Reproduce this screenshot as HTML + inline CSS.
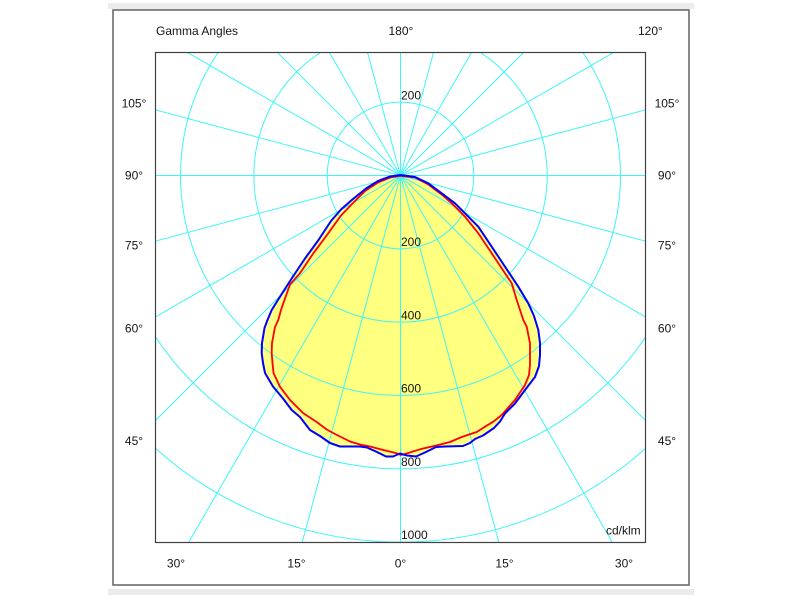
<!DOCTYPE html>
<html>
<head>
<meta charset="utf-8">
<style>
  html,body{margin:0;padding:0;background:#fff;width:800px;height:600px;overflow:hidden;}
  svg{display:block;overflow:hidden;}
  text{font-family:"Liberation Sans", Arial, sans-serif;font-size:12px;fill:#151515;}
</style>
</head>
<body>
<svg width="800" height="600" viewBox="0 0 800 600" xmlns="http://www.w3.org/2000/svg">
  <defs>
    <clipPath id="plot">
      <rect x="155.5" y="52.5" width="490" height="490"/>
    </clipPath>
  </defs>

  <!-- gray strips -->
  <rect x="108" y="3" width="586" height="6" fill="#ececec"/>
  <rect x="108" y="589" width="586" height="6" fill="#ececec"/>

  <!-- outer frame -->
  <rect x="113" y="10" width="576" height="575" fill="#fff" stroke="#6a6a6a" stroke-width="1.6"/>

  <g clip-path="url(#plot)">
    <!-- yellow fill (blue outline polygon) -->
    <polygon fill="#ffff80" stroke="none" points="
400.5,175 390,176.5 378,181 366,188.5 353,199 341,209.5 331,221 318.5,240 305,258.5 292,278 280,296.7 271.7,310 267.5,320 264.5,328 262,343 261.7,353 263,363 265,373 273,386.5 283,398.5 291.7,410 300,417 310,430 320,436 330,443 340,446.5 360,446.5 367,447.5 377,452 386,456.5 393,456.5 400,453.5 407,455.5 416,456.5 426,452 436,447 445,446.5 463,446 470,443 475,439 483,435.5 494,428 500,421.5 505,413.5 515,403.5 525,390 535,377 539,366 540,355 540,343 538.3,330 534,316 528.3,303.3 518.3,286.7 505,266.7 491.7,246.7 478.3,226.7 465,213.3 455,203.3 441.7,193.3 428.3,183.3 415,177"/>

    <!-- grid -->
    <g stroke="#3ff6f6" stroke-width="1" fill="none">
      <circle cx="400.5" cy="175.5" r="73.33"/>
      <circle cx="400.5" cy="175.5" r="146.67"/>
      <circle cx="400.5" cy="175.5" r="220"/>
      <circle cx="400.5" cy="175.5" r="293.33"/>
      <circle cx="400.5" cy="175.5" r="366.67"/>
      <line x1="400.5" y1="50" x2="400.5" y2="545"/>
      <line x1="153" y1="175.5" x2="648" y2="175.5"/>
      <g transform="translate(400.5 175.5)">
        <line x1="0" y1="-460" x2="0" y2="460" transform="rotate(15)"/>
        <line x1="0" y1="-460" x2="0" y2="460" transform="rotate(30)"/>
        <line x1="0" y1="-460" x2="0" y2="460" transform="rotate(45)"/>
        <line x1="0" y1="-460" x2="0" y2="460" transform="rotate(60)"/>
        <line x1="0" y1="-460" x2="0" y2="460" transform="rotate(75)"/>
        <line x1="0" y1="-460" x2="0" y2="460" transform="rotate(105)"/>
        <line x1="0" y1="-460" x2="0" y2="460" transform="rotate(120)"/>
        <line x1="0" y1="-460" x2="0" y2="460" transform="rotate(135)"/>
        <line x1="0" y1="-460" x2="0" y2="460" transform="rotate(150)"/>
        <line x1="0" y1="-460" x2="0" y2="460" transform="rotate(165)"/>
      </g>
    </g>

    <!-- red curve -->
    <polygon fill="none" stroke="#ff0000" stroke-width="1.8" stroke-linejoin="round" points="
400.5,175.8 390,177.5 378,182.5 365,191 352,204 341,215.5 327,235 313.3,253.3 300,273.3 290,284.5 283.3,303.3 281,310 278.3,320 275,327 272,343 271.7,353 272.5,363 273.5,373 280,386.7 290,400 303.3,413.3 316.7,422 326.7,429.5 335,434 350,441.5 360,444.5 370,446.5 383.3,450 396.7,453.3 401,455 405,454 420,449.3 438.3,445 450,442 461.7,437 476.7,432 485,426.7 493.3,421.7 501.7,415 515,400 525,385 529,375 530,365 530,343.3 526.7,326.7 523.3,320 520,310 516.7,300 511.7,283.3 505,273.3 491.7,253.3 478.3,233.3 465,216.7 451.7,203.3 441.7,194.5 428.3,184.5 415,177.5"/>

    <!-- blue curve -->
    <polygon fill="none" stroke="#0000ff" stroke-width="2" stroke-linejoin="round" points="
400.5,175 390,176.5 378,181 366,188.5 353,199 341,209.5 331,221 318.5,240 305,258.5 292,278 280,296.7 271.7,310 267.5,320 264.5,328 262,343 261.7,353 263,363 265,373 273,386.5 283,398.5 291.7,410 300,417 310,430 320,436 330,443 340,446.5 360,446.5 367,447.5 377,452 386,456.5 393,456.5 400,453.5 407,455.5 416,456.5 426,452 436,447 445,446.5 463,446 470,443 475,439 483,435.5 494,428 500,421.5 505,413.5 515,403.5 525,390 535,377 539,366 540,355 540,343 538.3,330 534,316 528.3,303.3 518.3,286.7 505,266.7 491.7,246.7 478.3,226.7 465,213.3 455,203.3 441.7,193.3 428.3,183.3 415,177"/>
  </g>

  <!-- inner plot border -->
  <rect x="155.5" y="52.5" width="490" height="490" fill="none" stroke="#404040" stroke-width="1.2"/>

  <!-- in-plot value labels -->
  <text x="401" y="99.5">200</text>
  <text x="401" y="246">200</text>
  <text x="401" y="319.5">400</text>
  <text x="401" y="392.5">600</text>
  <text x="401" y="466">800</text>
  <text x="401" y="539">1000</text>
  <text x="606" y="534.5">cd/klm</text>

  <!-- top labels -->
  <text x="156" y="35">Gamma Angles</text>
  <text x="388.5" y="35">180°</text>
  <text x="638" y="35">120°</text>

  <!-- left labels -->
  <text x="134" y="107.5" text-anchor="middle">105°</text>
  <text x="134" y="179.5" text-anchor="middle">90°</text>
  <text x="134" y="249.5" text-anchor="middle">75°</text>
  <text x="134" y="332.5" text-anchor="middle">60°</text>
  <text x="134" y="445" text-anchor="middle">45°</text>

  <!-- right labels -->
  <text x="667" y="107.5" text-anchor="middle">105°</text>
  <text x="667" y="179.5" text-anchor="middle">90°</text>
  <text x="667" y="249.5" text-anchor="middle">75°</text>
  <text x="667" y="332.5" text-anchor="middle">60°</text>
  <text x="667" y="445" text-anchor="middle">45°</text>

  <!-- bottom labels -->
  <text x="176" y="567.5" text-anchor="middle">30°</text>
  <text x="296.5" y="567.5" text-anchor="middle">15°</text>
  <text x="400.5" y="567.5" text-anchor="middle">0°</text>
  <text x="504.5" y="567.5" text-anchor="middle">15°</text>
  <text x="624" y="567.5" text-anchor="middle">30°</text>
</svg>
</body>
</html>
